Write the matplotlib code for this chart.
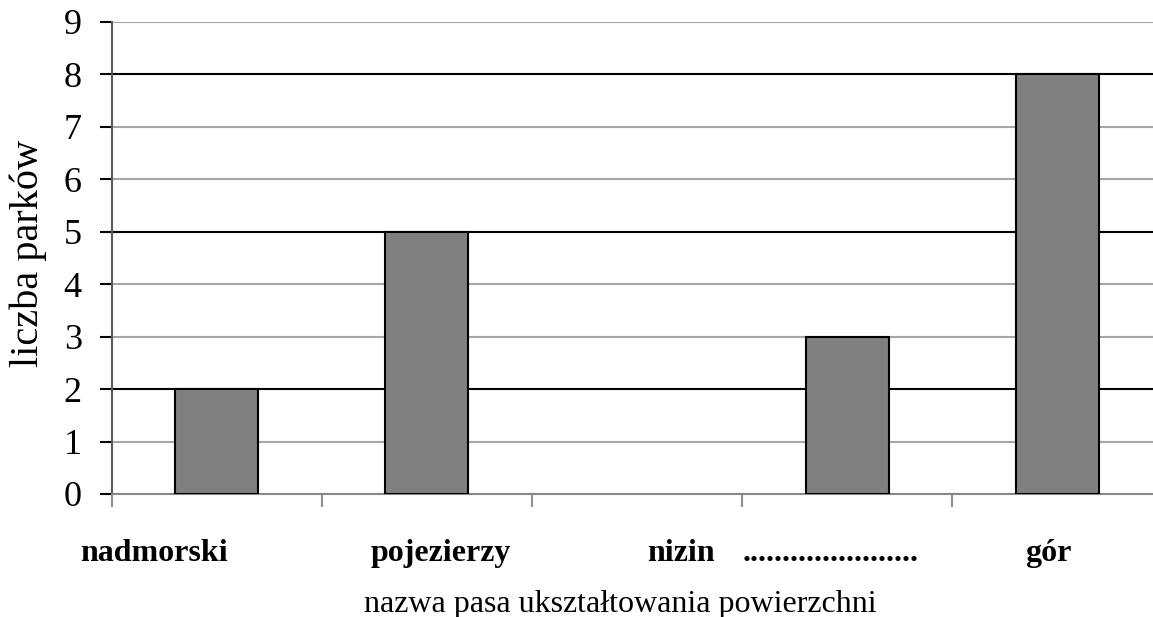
import matplotlib
matplotlib.use("Agg")
import matplotlib.pyplot as plt
import matplotlib.transforms as mtransforms
import numpy as np

# ~~~~~~~~~~~~~~~~~~~~ DATA ~~~~~~~~~~~~~~~~~~~~
values = [2, 5, 0, 3, 8]
names = ["nadmorski", "pojezierzy", "nizin", "......................", "gór"]
name_x = [-0.299, 1.067, 2.21, 2.92, 3.96]   # where the bold names sit (data x)
yticks = list(range(0, 10))
dark_lines = [2, 5, 8]
xlabel = "nazwa pasa ukształtowania powierzchni"
ylabel = "liczba parków"

plt.rcParams["font.family"] = ["Liberation Serif", "DejaVu Serif"]

W, H = 1153, 617
fig = plt.figure(figsize=(W / 100, H / 100), dpi=100)
# plot area runs a bit past the right edge of the figure, like the original
ax = fig.add_axes([111.7 / W, 1 - 494 / H, 1050.5 / W, 472 / H])

x = np.arange(len(values))
ax.bar(x, values, width=0.395, color="#808080", edgecolor="black",
       linewidth=[1.5 if v > 0 else 0 for v in values], zorder=3)

ax.set_xlim(-0.5, len(values) - 0.5)
ax.set_ylim(0, 9)
ax.set_yticks(yticks)
ax.set_yticklabels([str(v) for v in yticks], fontsize=26)
ax.tick_params(axis="y", length=8.5, width=1.5, pad=13)

# gridlines: grey, the 2/5/8 ones black
ax.yaxis.grid(True, linewidth=1.5)
for v, t in zip(yticks, ax.yaxis.get_major_ticks()):
    c = "black" if v in dark_lines else "#a6a6a6"
    t.gridline.set_color(c)
    t.tick1line.set_color(c)
ax.set_axisbelow(True)

# x ticks at the category borders, names as free text
ax.set_xticks(np.arange(-0.5, len(values), 1.0))
ax.set_xticklabels([])
ax.tick_params(axis="x", length=9.5, width=1.5, color="#909090")

trans = mtransforms.blended_transform_factory(ax.transData, fig.transFigure)
for name, px in zip(names, name_x):
    ax.text(px, 1 - 561 / H, name, ha="center", va="baseline", fontsize=23,
            fontweight="bold", transform=trans, clip_on=False)

ax.text(1.919, 1 - 612 / H, xlabel, ha="center", va="baseline",
        fontsize=23, transform=trans, clip_on=False)
fig.text(28 / W, 1 - 253 / H, ylabel, rotation=90, ha="center",
         va="center", fontsize=29)

for s in ["top", "right"]:
    ax.spines[s].set_visible(False)
ax.spines["left"].set_color("#5a5a5a")
ax.spines["left"].set_linewidth(1.5)
ax.spines["bottom"].set_color("#888888")
ax.spines["bottom"].set_linewidth(1.5)

fig.savefig("out.png", dpi=100)
